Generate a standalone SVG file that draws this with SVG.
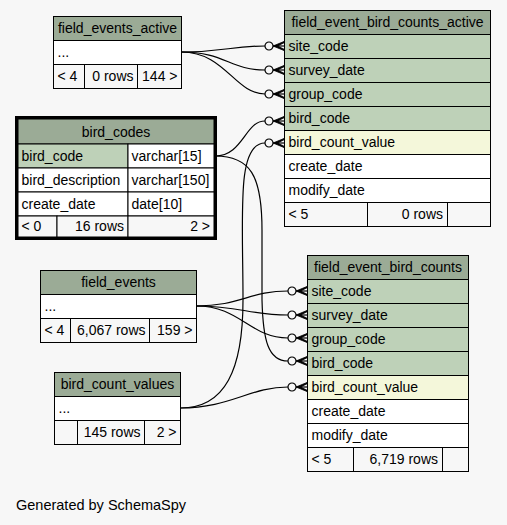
<svg xmlns="http://www.w3.org/2000/svg" xmlns:xlink="http://www.w3.org/1999/xlink" width="507" height="525" viewBox="0 0 507 525">
<style>
text{font-family:"Liberation Sans",Arial,sans-serif;font-size:14px;fill:#000}
.c{stroke:#000;stroke-width:1}
.h{fill:#9bab96}
.pk{fill:#bed1b8}
.ix{fill:#f4f7da}
.w{fill:#ffffff}
.f{fill:#f7f7f7}
.m{text-anchor:middle}
.r{text-anchor:end}
.e{fill:none;stroke:#000;stroke-width:1.2}
</style>
<defs>
<g id="mk">
<circle cx="0" cy="0" r="4" fill="none" stroke="#000" stroke-width="1.2"/>
<polygon points="4,0 15,-4.5 15,-3.2 8.5,0 15,3.2 15,4.5" fill="#000" stroke="#000" stroke-width="0.8"/>
<line x1="4" y1="0" x2="15" y2="0" stroke="#000" stroke-width="1.2"/>
</g>
</defs>
<rect width="507" height="525" fill="#f7f7f7"/>

<g id="connectors">
<path class="e" d="M181.5,52 C225,52 230,46 265,46"/>
<path class="e" d="M181.5,52 C225,52 230,70 265,70"/>
<path class="e" d="M181.5,52 C225,52 235,94 265,94"/>
<path class="e" d="M215,156 C243,156 245,121 265,121"/>
<path class="e" d="M215,156 C250,156 262,175 262,230 L262,300 C263,340 268,361 288,361"/>
<path class="e" d="M180.5,408 C225,408 243,370 243,300 C243,215 236,143 265,143"/>
<path class="e" d="M180.5,408 C230,408 250,387 288,387"/>
<path class="e" d="M196.5,306 C240,306 250,291 288,291"/>
<path class="e" d="M196.5,306 C240,306 250,315 288,315"/>
<path class="e" d="M196.5,306 C240,306 250,338 288,338"/>
<use xlink:href="#mk" x="269" y="46"/>
<use xlink:href="#mk" x="269" y="70"/>
<use xlink:href="#mk" x="269" y="94"/>
<use xlink:href="#mk" x="269" y="121"/>
<use xlink:href="#mk" x="269" y="143"/>
<use xlink:href="#mk" x="292" y="291"/>
<use xlink:href="#mk" x="292" y="315"/>
<use xlink:href="#mk" x="292" y="338"/>
<use xlink:href="#mk" x="292" y="361"/>
<use xlink:href="#mk" x="292" y="387"/>
</g>

<g id="field_events_active">
<rect class="c h" x="53.5" y="16.5" width="128" height="24"/>
<rect class="c w" x="53.5" y="40.5" width="128" height="24"/>
<rect class="c f" x="53.5" y="64.5" width="31" height="24"/>
<rect class="c f" x="84.5" y="64.5" width="53" height="24"/>
<rect class="c f" x="137.5" y="64.5" width="44" height="24"/>
<text class="m" x="117.5" y="33">field_events_active</text>
<text x="57.5" y="57">...</text>
<text x="57.5" y="81">&lt; 4</text>
<text class="r" x="133.5" y="81">0 rows</text>
<text class="r" x="177.5" y="81">144 &gt;</text>
</g>

<g id="field_event_bird_counts_active">
<rect class="c h" x="284.5" y="10.5" width="206" height="24"/>
<rect class="c pk" x="284.5" y="34.5" width="206" height="24"/>
<rect class="c pk" x="284.5" y="58.5" width="206" height="24"/>
<rect class="c pk" x="284.5" y="82.5" width="206" height="24"/>
<rect class="c pk" x="284.5" y="106.5" width="206" height="24"/>
<rect class="c ix" x="284.5" y="130.5" width="206" height="24"/>
<rect class="c w" x="284.5" y="154.5" width="206" height="24"/>
<rect class="c w" x="284.5" y="178.5" width="206" height="24"/>
<rect class="c f" x="284.5" y="202.5" width="83" height="24"/>
<rect class="c f" x="367.5" y="202.5" width="80" height="24"/>
<rect class="c f" x="447.5" y="202.5" width="43" height="24"/>
<text class="m" x="387.5" y="27">field_event_bird_counts_active</text>
<text x="288.5" y="51">site_code</text>
<text x="288.5" y="75">survey_date</text>
<text x="288.5" y="99">group_code</text>
<text x="288.5" y="123">bird_code</text>
<text x="288.5" y="147">bird_count_value</text>
<text x="288.5" y="171">create_date</text>
<text x="288.5" y="195">modify_date</text>
<text x="288.5" y="219">&lt; 5</text>
<text class="r" x="443" y="219">0 rows</text>
</g>

<g id="bird_codes">
<rect x="16.5" y="117.5" width="199" height="121" fill="#fff" stroke="#000" stroke-width="3"/>
<rect class="c h" x="18" y="119" width="196" height="25"/>
<rect class="c pk" x="18" y="144" width="110" height="24"/>
<rect class="c w" x="128" y="144" width="86" height="24"/>
<rect class="c w" x="18" y="168" width="110" height="24"/>
<rect class="c w" x="128" y="168" width="86" height="24"/>
<rect class="c w" x="18" y="192" width="110" height="24"/>
<rect class="c w" x="128" y="192" width="86" height="24"/>
<rect class="c f" x="18" y="216" width="39" height="21"/>
<rect class="c f" x="57" y="216" width="71" height="21"/>
<rect class="c f" x="128" y="216" width="86" height="21"/>
<text class="m" x="116" y="136.5">bird_codes</text>
<text x="21.5" y="160.5">bird_code</text>
<text x="131.5" y="160.5">varchar[15]</text>
<text x="21.5" y="184.5">bird_description</text>
<text x="131.5" y="184.5">varchar[150]</text>
<text x="21.5" y="208.5">create_date</text>
<text x="131.5" y="208.5">date[10]</text>
<text x="21.5" y="231">&lt; 0</text>
<text class="r" x="124" y="231">16 rows</text>
<text class="r" x="210" y="231">2 &gt;</text>
</g>

<g id="field_events">
<rect class="c h" x="40.5" y="270.5" width="156" height="24"/>
<rect class="c w" x="40.5" y="294.5" width="156" height="24"/>
<rect class="c f" x="40.5" y="318.5" width="30" height="24"/>
<rect class="c f" x="70.5" y="318.5" width="79" height="24"/>
<rect class="c f" x="149.5" y="318.5" width="47" height="24"/>
<text class="m" x="118.5" y="287">field_events</text>
<text x="44.5" y="311">...</text>
<text x="44.5" y="335">&lt; 4</text>
<text class="r" x="145.5" y="335">6,067 rows</text>
<text class="r" x="192.5" y="335">159 &gt;</text>
</g>

<g id="field_event_bird_counts">
<rect class="c h" x="307.5" y="255.5" width="161" height="24"/>
<rect class="c pk" x="307.5" y="279.5" width="161" height="24"/>
<rect class="c pk" x="307.5" y="303.5" width="161" height="24"/>
<rect class="c pk" x="307.5" y="327.5" width="161" height="24"/>
<rect class="c pk" x="307.5" y="351.5" width="161" height="24"/>
<rect class="c ix" x="307.5" y="375.5" width="161" height="24"/>
<rect class="c w" x="307.5" y="399.5" width="161" height="24"/>
<rect class="c w" x="307.5" y="423.5" width="161" height="24"/>
<rect class="c f" x="307.5" y="447.5" width="46" height="24"/>
<rect class="c f" x="353.5" y="447.5" width="89" height="24"/>
<rect class="c f" x="442.5" y="447.5" width="26" height="24"/>
<text class="m" x="388" y="272">field_event_bird_counts</text>
<text x="311.5" y="296">site_code</text>
<text x="311.5" y="320">survey_date</text>
<text x="311.5" y="344">group_code</text>
<text x="311.5" y="368">bird_code</text>
<text x="311.5" y="392">bird_count_value</text>
<text x="311.5" y="416">create_date</text>
<text x="311.5" y="440">modify_date</text>
<text x="311.5" y="464">&lt; 5</text>
<text class="r" x="438" y="464">6,719 rows</text>
</g>

<g id="bird_count_values">
<rect class="c h" x="54.5" y="372.5" width="126" height="24"/>
<rect class="c w" x="54.5" y="396.5" width="126" height="24"/>
<rect class="c f" x="54.5" y="420.5" width="23" height="24"/>
<rect class="c f" x="77.5" y="420.5" width="67" height="24"/>
<rect class="c f" x="144.5" y="420.5" width="36" height="24"/>
<text class="m" x="117.5" y="389">bird_count_values</text>
<text x="58.5" y="413">...</text>
<text class="r" x="140.5" y="437">145 rows</text>
<text class="r" x="176.5" y="437">2 &gt;</text>
</g>

<text x="16" y="510" style="font-size:14.5px">Generated by SchemaSpy</text>
</svg>
